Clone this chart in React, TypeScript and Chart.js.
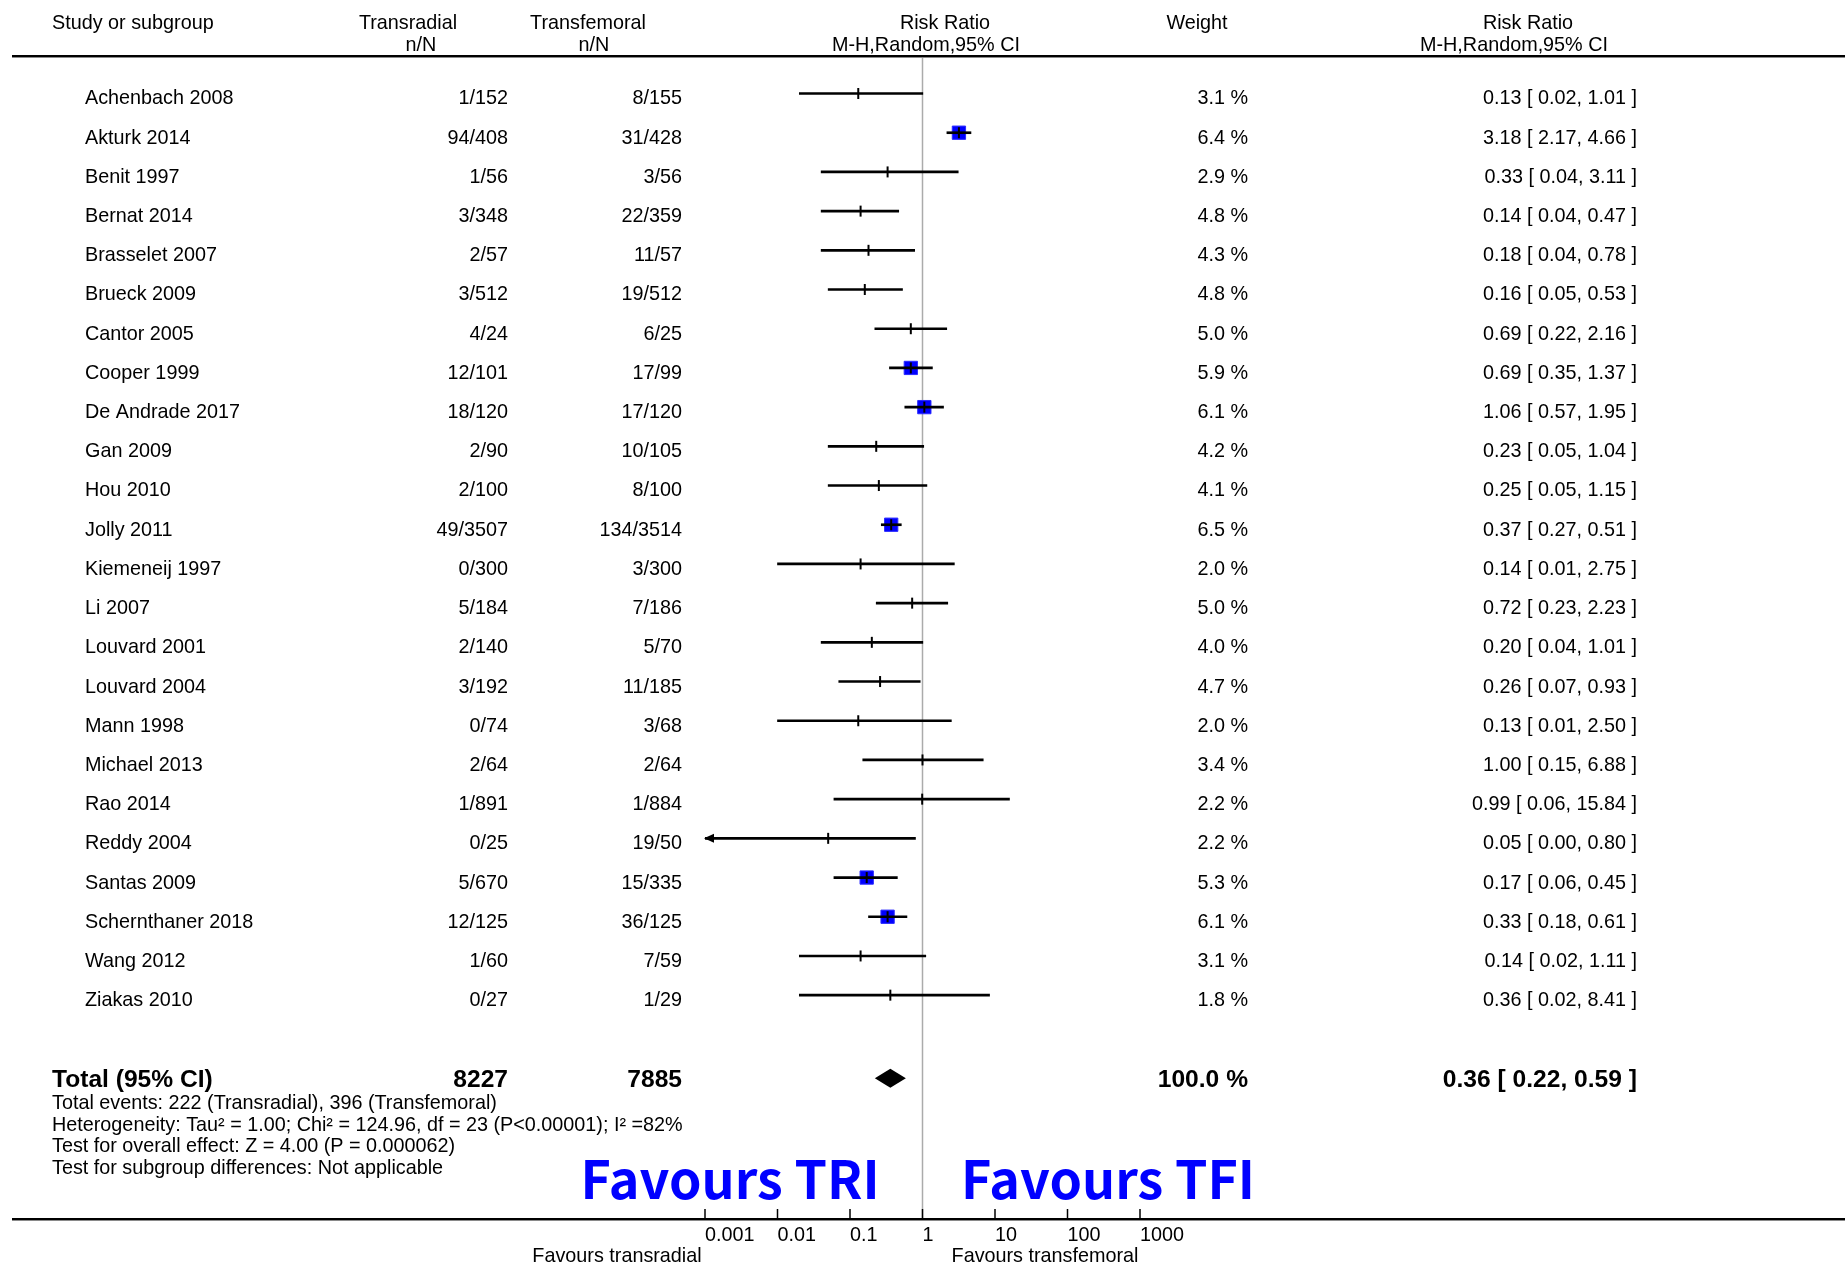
import React, { useEffect, useRef } from "react";
import { Chart, registerables } from "chart.js";

Chart.register(...registerables);

// ---------------- data ----------------
const studies = [
  "Achenbach 2008", "Akturk 2014", "Benit 1997", "Bernat 2014", "Brasselet 2007", "Brueck 2009",
  "Cantor 2005", "Cooper 1999", "De Andrade 2017", "Gan 2009", "Hou 2010", "Jolly 2011",
  "Kiemeneij 1997", "Li 2007", "Louvard 2001", "Louvard 2004", "Mann 1998", "Michael 2013",
  "Rao 2014", "Reddy 2004", "Santas 2009", "Schernthaner 2018", "Wang 2012", "Ziakas 2010",
];
const radialEvents = [1, 94, 1, 3, 2, 3, 4, 12, 18, 2, 2, 49, 0, 5, 2, 3, 0, 2, 1, 0, 5, 12, 1, 0];
const radialTotal = [152, 408, 56, 348, 57, 512, 24, 101, 120, 90, 100, 3507, 300, 184, 140, 192, 74, 64, 891, 25, 670, 125, 60, 27];
const femoralEvents = [8, 31, 3, 22, 11, 19, 6, 17, 17, 10, 8, 134, 3, 7, 5, 11, 3, 2, 1, 19, 15, 36, 7, 1];
const femoralTotal = [155, 428, 56, 359, 57, 512, 25, 99, 120, 105, 100, 3514, 300, 186, 70, 185, 68, 64, 884, 50, 335, 125, 59, 29];
const weights = [3.1, 6.4, 2.9, 4.8, 4.3, 4.8, 5.0, 5.9, 6.1, 4.2, 4.1, 6.5, 2.0, 5.0, 4.0, 4.7, 2.0, 3.4, 2.2, 2.2, 5.3, 6.1, 3.1, 1.8];
const riskRatio = [0.13, 3.18, 0.33, 0.14, 0.18, 0.16, 0.69, 0.69, 1.06, 0.23, 0.25, 0.37, 0.14, 0.72, 0.20, 0.26, 0.13, 1.00, 0.99, 0.05, 0.17, 0.33, 0.14, 0.36];
const ciLow = [0.02, 2.17, 0.04, 0.04, 0.04, 0.05, 0.22, 0.35, 0.57, 0.05, 0.05, 0.27, 0.01, 0.23, 0.04, 0.07, 0.01, 0.15, 0.06, 0.00, 0.06, 0.18, 0.02, 0.02];
const ciHigh = [1.01, 4.66, 3.11, 0.47, 0.78, 0.53, 2.16, 1.37, 1.95, 1.04, 1.15, 0.51, 2.75, 2.23, 1.01, 0.93, 2.50, 6.88, 15.84, 0.80, 0.45, 0.61, 1.11, 8.41];

const totalRadial = 8227;
const totalFemoral = 7885;
const totalWeight = 100.0;
const pooled = [0.36, 0.22, 0.59];
const totalRow = 25.12;

const tickValues = [0.001, 0.01, 0.1, 1, 10, 100, 1000];
const tickLabels = ["0.001", "0.01", "0.1", "1", "10", "100", "1000"];

const footnotes = [
  "Total events: 222 (Transradial), 396 (Transfemoral)",
  "Heterogeneity: Tau\u00b2 = 1.00; Chi\u00b2 = 124.96, df = 23 (P<0.00001); I\u00b2 =82%",
  "Test for overall effect: Z = 4.00 (P = 0.000062)",
  "Test for subgroup differences: Not applicable",
];

// ---------------- layout ----------------
const W = 1845;
const H = 1263;
const FAM = '"Liberation Sans", Arial, Helvetica, sans-serif';
const REG = `19.8px ${FAM}`;
const BOLD = `bold 24.6px ${FAM}`;
const NOTE = `19.8px ${FAM}`;
const BIG = `bold 52px "Noto Sans CJK KR", "Noto Sans", sans-serif`;

const fmt2 = (v: number) => v.toFixed(2);

function text(ctx: CanvasRenderingContext2D, s: string, x: number, y: number, align: CanvasTextAlign, font: string, color = "#000") {
  ctx.font = font;
  ctx.textAlign = align;
  ctx.textBaseline = "middle";
  ctx.fillStyle = color;
  ctx.fillText(s, x, y);
}

function doubleRule(ctx: CanvasRenderingContext2D, y: number) {
  ctx.fillStyle = "#000";
  ctx.fillRect(12, y - 1, W - 12, 2);
  ctx.fillStyle = "#8a8a8a";
  ctx.fillRect(12, y + 1, W - 12, 1);
}

const forestPlugin = {
  id: "forest",
  beforeDraw(chart: any) {
    const { ctx } = chart;
    ctx.save();
    ctx.fillStyle = "#fff";
    ctx.fillRect(0, 0, chart.width, chart.height);
    ctx.restore();
  },
  beforeDatasetsDraw(chart: any) {
    const { ctx, chartArea, scales } = chart;
    const x1 = scales.x.getPixelForValue(1);
    ctx.save();
    ctx.strokeStyle = "#ababab";
    ctx.lineWidth = 1.5;
    ctx.beginPath();
    ctx.moveTo(x1, chartArea.top);
    ctx.lineTo(x1, chartArea.bottom);
    ctx.stroke();
    ctx.restore();
  },
  afterDatasetsDraw(chart: any) {
    const { ctx, chartArea, scales } = chart;
    const xs = scales.x;
    const ys = scales.y;
    ctx.save();

    // header
    const h1 = 23.5;
    const h2 = 46;
    text(ctx, "Study or subgroup", 52, h1, "left", REG);
    text(ctx, "Transradial", 408, h1, "center", REG);
    text(ctx, "n/N", 421, h2, "center", REG);
    text(ctx, "Transfemoral", 588, h1, "center", REG);
    text(ctx, "n/N", 594, h2, "center", REG);
    text(ctx, "Risk Ratio", 945, h1, "center", REG);
    text(ctx, "M-H,Random,95% CI", 926, h2, "center", REG);
    text(ctx, "Weight", 1197, h1, "center", REG);
    text(ctx, "Risk Ratio", 1528, h1, "center", REG);
    text(ctx, "M-H,Random,95% CI", 1514, h2, "center", REG);
    doubleRule(ctx, chartArea.top);

    // study rows
    studies.forEach((name, i) => {
      const yy = ys.getPixelForValue(i) + 5.5;
      text(ctx, name, 85, yy, "left", REG);
      text(ctx, `${radialEvents[i]}/${radialTotal[i]}`, 508, yy, "right", REG);
      text(ctx, `${femoralEvents[i]}/${femoralTotal[i]}`, 682, yy, "right", REG);
      text(ctx, `${weights[i].toFixed(1)} %`, 1248, yy, "right", REG);
      text(ctx, `${fmt2(riskRatio[i])} [ ${fmt2(ciLow[i])}, ${fmt2(ciHigh[i])} ]`, 1637, yy, "right", REG);

      // arrow where CI runs beyond the axis
      if (ciLow[i] < tickValues[0]) {
        const ly = ys.getPixelForValue(i);
        const lx = xs.getPixelForValue(tickValues[0]);
        ctx.fillStyle = "#000";
        ctx.beginPath();
        ctx.moveTo(lx - 1, ly);
        ctx.lineTo(lx + 9, ly - 4.5);
        ctx.lineTo(lx + 9, ly + 4.5);
        ctx.closePath();
        ctx.fill();
      }
    });

    // total row
    const ty = ys.getPixelForValue(totalRow);
    text(ctx, "Total (95% CI)", 52, ty + 2, "left", BOLD);
    text(ctx, String(totalRadial), 508, ty + 2, "right", BOLD);
    text(ctx, String(totalFemoral), 682, ty + 2, "right", BOLD);
    text(ctx, `${totalWeight.toFixed(1)} %`, 1248, ty + 2, "right", BOLD);
    text(ctx, `${fmt2(pooled[0])} [ ${fmt2(pooled[1])}, ${fmt2(pooled[2])} ]`, 1637, ty + 2, "right", BOLD);

    // pooled diamond
    const dl = xs.getPixelForValue(pooled[1]);
    const dm = xs.getPixelForValue(pooled[0]);
    const dr = xs.getPixelForValue(pooled[2]);
    ctx.fillStyle = "#000";
    ctx.beginPath();
    ctx.moveTo(dl, ty);
    ctx.lineTo(dm, ty - 9.5);
    ctx.lineTo(dr, ty);
    ctx.lineTo(dm, ty + 9.5);
    ctx.closePath();
    ctx.fill();

    // footnotes
    const noteY = [1103.5, 1125.5, 1147, 1168.5];
    footnotes.forEach((s, k) => text(ctx, s, 52, noteY[k], "left", NOTE));

    // big annotations
    ctx.font = BIG;
    ctx.textAlign = "center";
    ctx.textBaseline = "alphabetic";
    ctx.fillStyle = "#0000ff";
    ctx.fillText("Favours TRI", 730, 1199);
    ctx.fillText("Favours TFI", 1108, 1199);

    // axis rule and tick marks
    doubleRule(ctx, chartArea.bottom);
    ctx.strokeStyle = "#000";
    ctx.lineWidth = 1.5;
    xs.ticks.forEach((t: any) => {
      const px = xs.getPixelForValue(t.value);
      ctx.beginPath();
      ctx.moveTo(px, chartArea.bottom - 10);
      ctx.lineTo(px, chartArea.bottom);
      ctx.stroke();
    });

    text(ctx, "Favours transradial", 617, 1256.5, "center", REG);
    text(ctx, "Favours transfemoral", 1045, 1256.5, "center", REG);
    ctx.restore();
  },
};

export default function App() {
  const ref = useRef<HTMLCanvasElement>(null);

  useEffect(() => {
    const canvas = ref.current;
    if (!canvas) return;
    const idx = studies.map((_, i) => i);
    const chart = new Chart(canvas, {
      type: "scatter",
      data: {
        datasets: [
          {
            type: "scatter",
            label: "Weight",
            data: idx.filter((i) => weights[i] > 5.2).map((i) => ({ x: riskRatio[i], y: i })),
            pointStyle: "rect",
            pointRadius: 9.4,
            backgroundColor: "#0000ff",
            borderColor: "#2b2bff",
            borderWidth: 1,
            order: 3,
          } as any,
          {
            type: "bar",
            label: "95% CI",
            indexAxis: "y",
            data: idx.map((i) => ({ x: [ciLow[i] > 0 ? ciLow[i] : tickValues[0], ciHigh[i]], y: i })),
            backgroundColor: "#000",
            barThickness: 2,
            order: 2,
          } as any,
          {
            type: "scatter",
            label: "Risk ratio",
            data: idx.map((i) => ({ x: riskRatio[i], y: i })),
            pointStyle: "line",
            rotation: 90,
            pointRadius: 5.5,
            borderColor: "#000",
            borderWidth: 2,
            order: 1,
          } as any,
        ],
      },
      options: {
        responsive: false,
        animation: false,
        devicePixelRatio: 1,
        events: [],
        layout: { padding: { left: 705, right: W - 1140, top: 56, bottom: 0 } },
        plugins: { legend: { display: false }, tooltip: { enabled: false } },
        scales: {
          x: {
            type: "logarithmic",
            min: tickValues[0],
            max: tickValues[tickValues.length - 1],
            offset: false,
            beginAtZero: false,
            afterBuildTicks: (scale: any) => {
              scale.ticks = tickValues.map((v) => ({ value: v }));
            },
            afterFit: (scale: any) => {
              scale.height = 44;
            },
            ticks: {
              autoSkip: false,
              maxRotation: 0,
              minRotation: 0,
              align: "start",
              padding: 4.5,
              color: "#000",
              font: { family: FAM, size: 19.8 },
              callback: (_v: any, i: number) => tickLabels[i],
            },
            grid: { display: false, drawTicks: false, offset: false },
            border: { display: false },
          },
          y: {
            type: "linear",
            reverse: true,
            offset: false,
            grid: { offset: false },
            min: -0.957,
            max: 28.71,
            display: false,
          },
        },
      } as any,
      plugins: [forestPlugin],
    });
    return () => chart.destroy();
  }, []);

  return (
    <div style={{ position: "absolute", left: 0, top: 0, width: W, height: H, background: "#fff" }}>
      <canvas ref={ref} width={W} height={H} style={{ display: "block", width: W, height: H }} />
    </div>
  );
}
